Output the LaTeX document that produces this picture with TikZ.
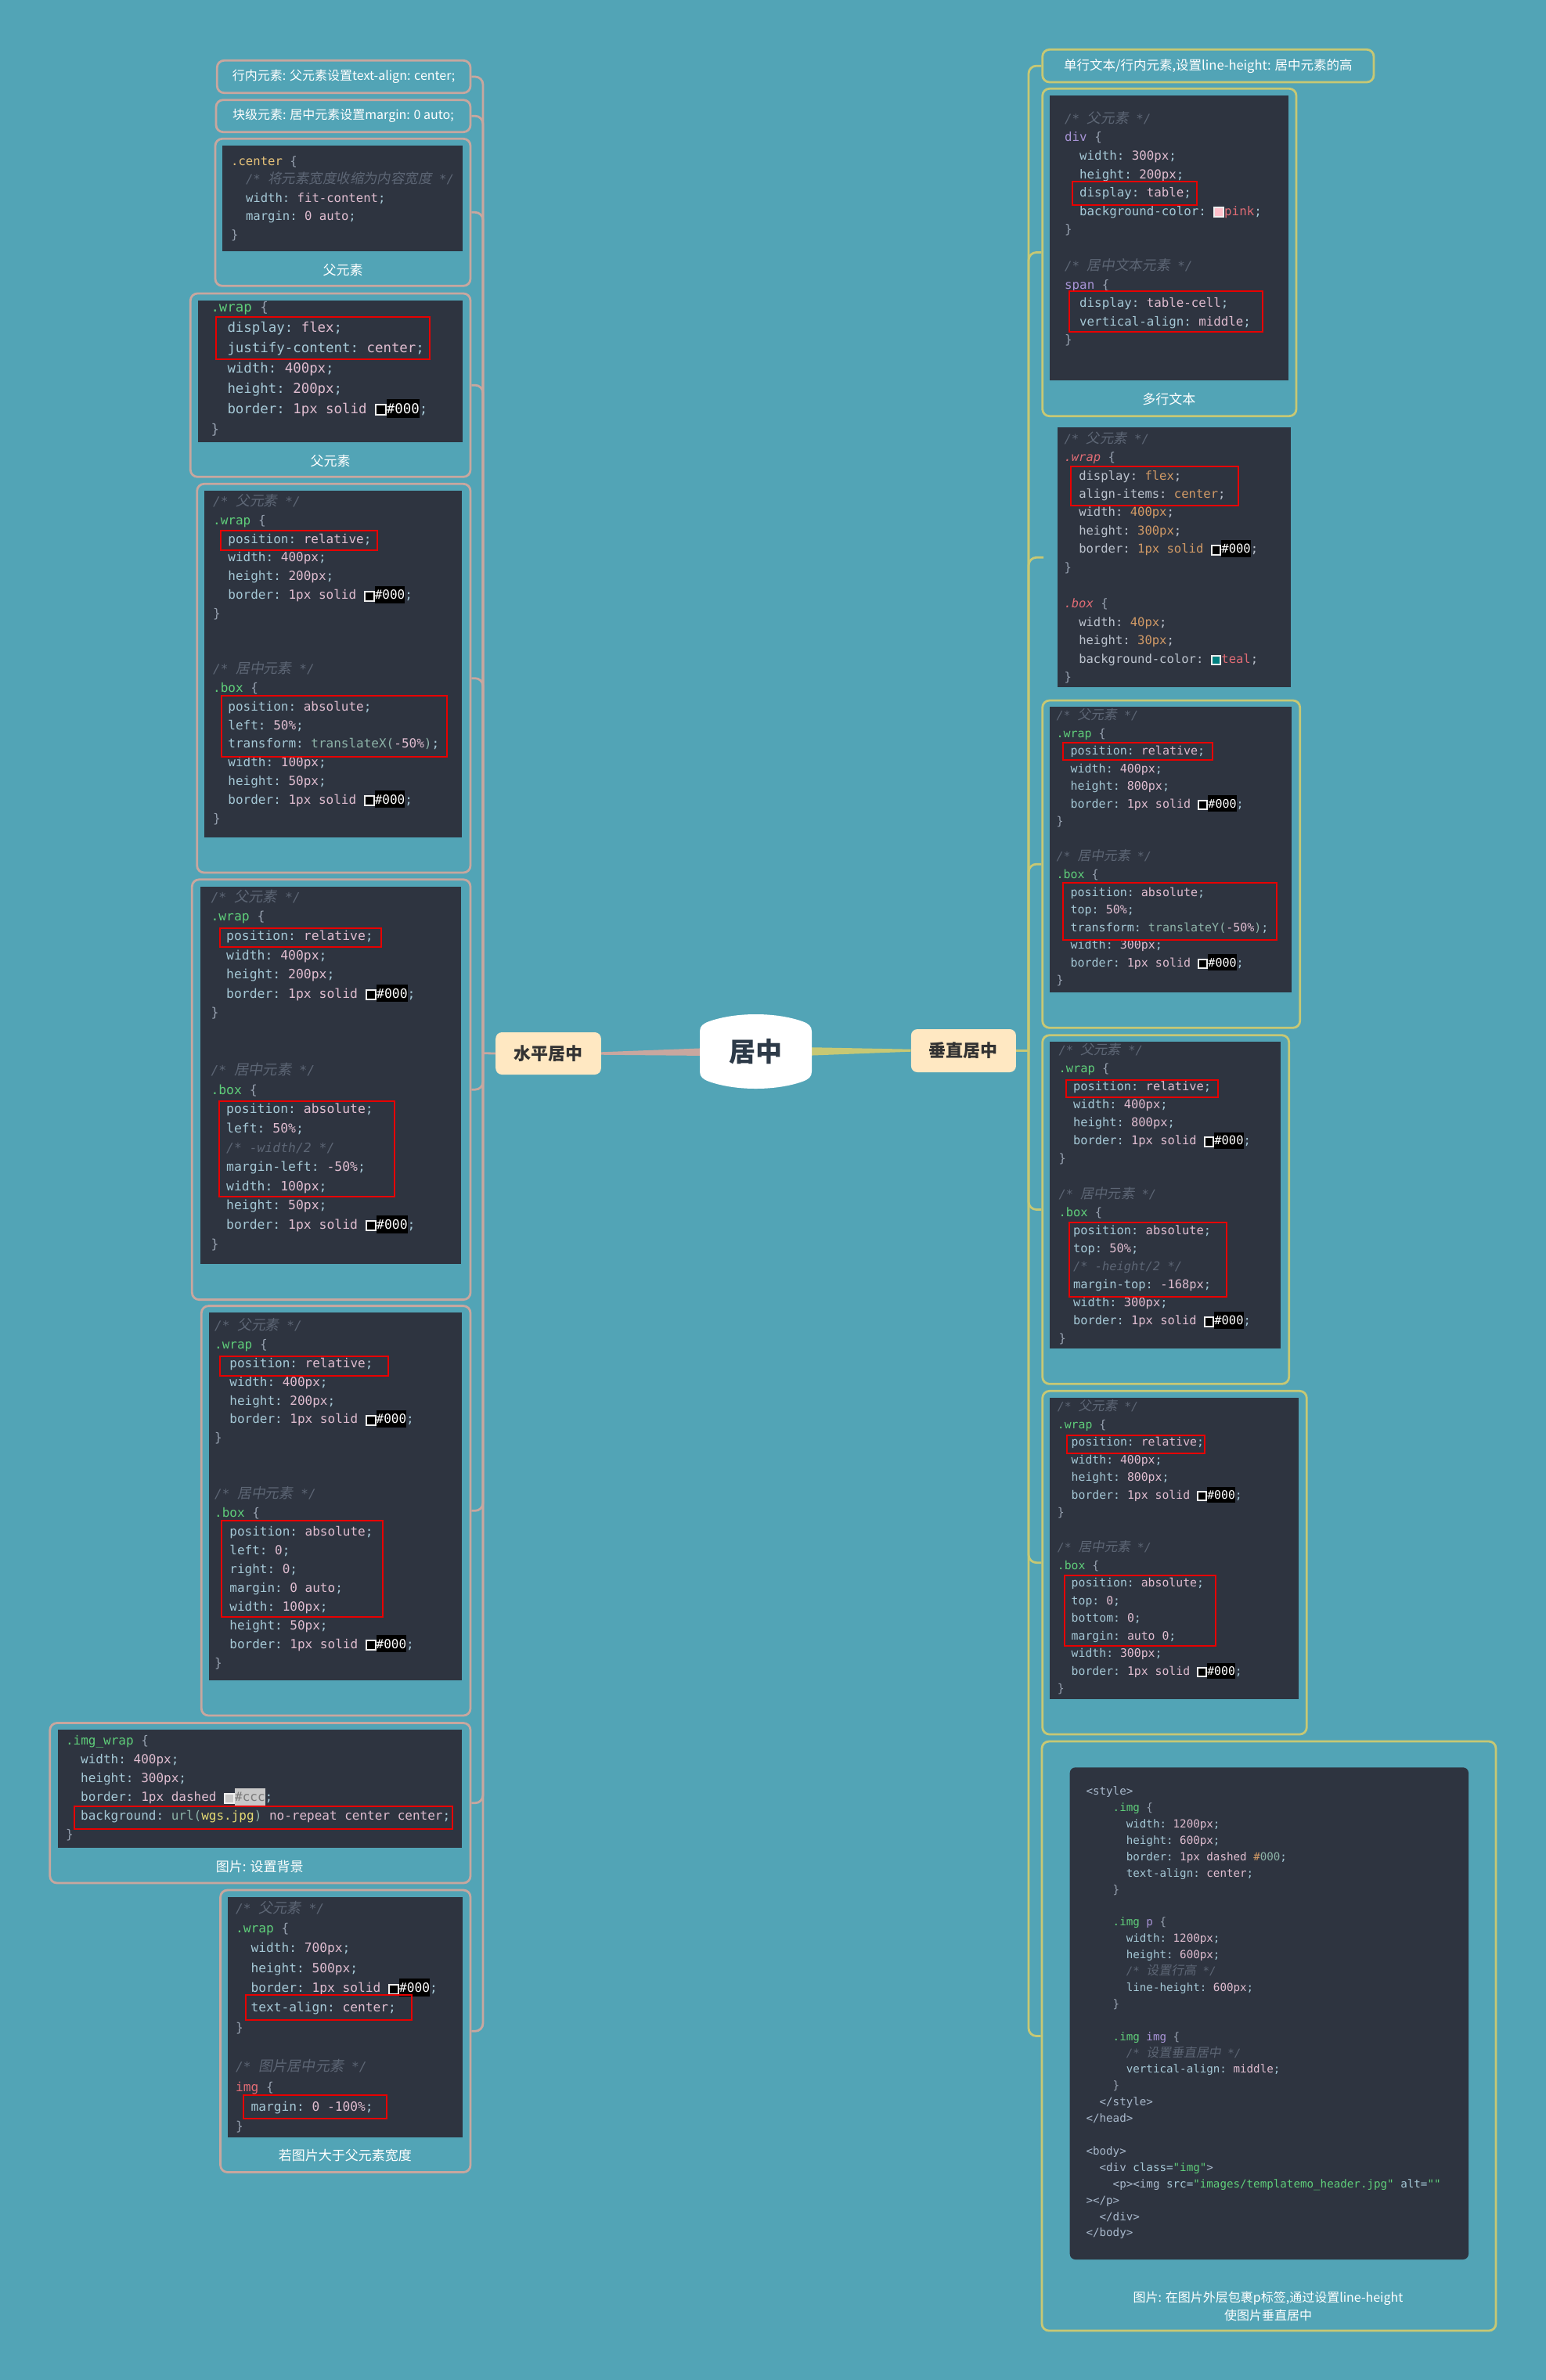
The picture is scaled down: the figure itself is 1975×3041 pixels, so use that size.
\documentclass[tikz,border=0pt]{standalone}
\usepackage{fontspec}
\setmainfont{Noto Sans CJK SC}
\setmonofont{DejaVu Sans Mono}
\newfontfamily\cjk{Noto Sans CJK SC}
\newfontfamily\cjkit[FakeSlant=0.18,Scale=1.12]{Noto Sans CJK SC}
\usetikzlibrary{calc}
\definecolor{bgcol}{HTML}{52A4B6}
\definecolor{lcol}{HTML}{C8A79F}
\definecolor{rcol}{HTML}{C7C874}
\definecolor{panelcol}{HTML}{2E3440}
\definecolor{cdprop}{HTML}{A5C8D6}
\definecolor{cdval}{HTML}{E0BDD0}
\definecolor{cdsel}{HTML}{5FCE7A}
\definecolor{cdbr}{HTML}{96A0AF}
\definecolor{cdcom}{HTML}{5D6675}
\definecolor{cdyel}{HTML}{E6C27A}
\definecolor{cdred}{HTML}{E06C75}
\definecolor{cdora}{HTML}{D19A66}
\definecolor{cdfun}{HTML}{8DB3A8}
\definecolor{cdpur}{HTML}{A894D6}
\definecolor{cdstr}{HTML}{E6DB74}
\definecolor{cdgray}{HTML}{BCC3CE}
\definecolor{cdtag}{HTML}{A9B9CC}
\definecolor{cdccc}{HTML}{C8C8C8}
\definecolor{cdgraytext}{HTML}{7A7A7A}
\definecolor{cdpinksw}{HTML}{FFC0CB}
\definecolor{cdtealsw}{HTML}{008080}
\definecolor{swframe}{HTML}{EEEEEE}
\definecolor{rootcol}{HTML}{2D3A48}
\definecolor{labcol}{HTML}{333333}
\definecolor{hzfill}{HTML}{FFE8C2}
\definecolor{redline}{HTML}{E80000}
\newcounter{cdn}
\newcommand\cdV[1]{\textcolor{cdval}{#1}}
\newcommand\cdS[1]{\textcolor{cdsel}{#1}}
\newcommand\cdB[1]{\textcolor{cdbr}{#1}}
\newcommand\cdY[1]{\textcolor{cdyel}{#1}}
\newcommand\cdR[1]{\textcolor{cdred}{\itshape #1}}
\newcommand\cdO[1]{\textcolor{cdora}{#1}}
\newcommand\cdF[1]{\textcolor{cdfun}{#1}}
\newcommand\cdU[1]{\textcolor{cdpur}{#1}}
\newcommand\cdK[1]{\textcolor{cdred}{#1}}
\newcommand\cdG[1]{\textcolor{cdgray}{#1}}
\newcommand\cdT[1]{\textcolor{cdstr}{#1}}
\newcommand\cdH[1]{\textcolor{cdtag}{#1}}
\newcommand\cdcm[1]{\textcolor{cdcom}{\itshape /* {\cjkit #1} */}}
\newcommand\cdcl[1]{\textcolor{cdcom}{\itshape #1}}
\newcommand\cdsw[1]{\raisebox{-1pt}{\setlength\fboxsep{0pt}\setlength\fboxrule{2pt}\fcolorbox{swframe}{#1}{\rule{0pt}{0.62em}\hspace{0.62em}}}}
\newcommand\cdhl[3]{{\setlength\fboxsep{0pt}\colorbox{#1}{\rule[-0.32em]{0pt}{1.38em}\textcolor{#2}{#3}}}}
\newcommand\cdbd{border: \cdV{1px solid }\cdsw{black}\cdhl{black}{white}{\#000};}
\newcommand\cdset[5]{\def\cdx{#1}\def\cdy{#2}\def\cdL{#3}\def\cds{#4}\def\cdw{#5}}
\newcommand\cdl[3]{\stepcounter{cdn}\node[codeline] (cl\arabic{cdn}) at ({\cdx+#1*\cdw},{\cdy+#2*\cdL+0.3*\cds}) {#3};}
\newcommand\cdwrap[1]{%
\cdl{0}{0}{\cdcm{父元素}}
\cdl{0}{1}{\cdS{.wrap} \cdB{\{}}
\cdl{2}{2}{position: \cdV{relative};}
\cdl{2}{3}{width: \cdV{400px};}
\cdl{2}{4}{height: \cdV{#1};}
\cdl{2}{5}{\cdbd}
\cdl{0}{6}{\cdB{\}}}}
\newcommand\frameat[7]{\node[#1, minimum width={#5pt-#3pt}, minimum height={#6pt-#4pt}] (#2) at ({(#3+#5)/2},{(#4+#6)/2}) {#7};}
\tikzset{
  codeline/.style={anchor=base west, inner sep=0pt, text=cdprop, font=\fontsize{\cds}{\cds}\selectfont\ttfamily},
  lframe/.style={draw=lcol, line width=2.8pt, rounded corners=9pt, inner sep=0pt},
  rframe/.style={draw=rcol, line width=2.8pt, rounded corners=9pt, inner sep=0pt},
  panel/.style={fill=panelcol, inner sep=0pt},
  lab/.style={text=white, font=\cjk\fontsize{16}{19}\selectfont},
  capt/.style={text=white, inner sep=0pt, font=\cjk\fontsize{17}{23}\selectfont},
  lconn/.style={draw=lcol, line width=2.8pt, rounded corners=10pt},
  rconn/.style={draw=rcol, line width=2.8pt, rounded corners=10pt},
  redbox/.style={draw=redline, line width=2pt},
  topic/.style={fill=hzfill, rounded corners=8pt, inner sep=0pt, text=labcol, font=\cjk\bfseries\fontsize{22}{26}\selectfont},
}
\begin{document}
\begin{tikzpicture}[x=1pt,y=-1pt]
\useasboundingbox (0,0) rectangle (1975,3041);
\fill[bgcol] (0,0) rectangle (1975,3041);

% ---------- central topics ----------
\node[topic, minimum width=134.6pt, minimum height=54pt] (hz) at (700.5,1346) {水平居中};
\node[topic, minimum width=134pt, minimum height=55pt] (vt) at (1230.9,1342.5) {垂直居中};
\node[inner sep=0pt, minimum width=143pt, minimum height=70pt] (root) at (965.5,1343.5) {};
\fill[lcol] ($(root.west)+(12,-4.5)$) -- ($(hz.east)+(0,-1.7)$) -- ($(hz.east)+(0,1.7)$) -- ($(root.west)+(12,5.5)$) -- cycle;
\fill[rcol] ($(root.east)+(-12,-5.5)$) -- ($(vt.west)+(0,-1.8)$) -- ($(vt.west)+(0,1.2)$) -- ($(root.east)+(-12,5.5)$) -- cycle;
\fill[white] (894,1318) -- (894,1369)
  .. controls (894,1376) and (898,1379) .. (906,1382)
  .. controls (940,1394) and (991,1394) .. (1025,1382)
  .. controls (1033,1379) and (1037,1376) .. (1037,1369)
  -- (1037,1318)
  .. controls (1037,1311) and (1033,1308) .. (1025,1305)
  .. controls (991,1293) and (940,1293) .. (906,1305)
  .. controls (898,1308) and (894,1311) .. (894,1318) -- cycle;
\node[text=rootcol, font=\cjk\bfseries\fontsize{34}{40}\selectfont] (roottext) at (root.center) {居中};

% ---------- left frames ----------
\frameat{lframe, lab}{L1}{277.3}{77.3}{601}{118.7}{行内元素: 父元素设置text-align: center;}
\frameat{lframe, lab}{L2}{276}{127.7}{601}{168.7}{块级元素: 居中元素设置margin: 0 auto;}
\frameat{lframe}{L3}{275}{177.3}{601}{365.3}{}
\frameat{lframe}{L4}{243.3}{375}{601}{609.3}{}
\frameat{lframe}{L5}{251.7}{618.3}{601}{1115}{}
\frameat{lframe}{L6}{245.3}{1123.8}{601}{1660.6}{}
\frameat{lframe}{L7}{257.3}{1668.6}{601}{2192}{}
\frameat{lframe}{L8}{63.8}{2201.5}{601}{2406}{}
\frameat{lframe}{L9}{281.6}{2415}{601}{2775.5}{}

% ---------- right frames ----------
\frameat{rframe, lab, font=\cjk\fontsize{16.5}{19}\selectfont}{R1}{1331.7}{63.3}{1755}{105}{单行文本/行内元素,设置line-height: 居中元素的高}
\frameat{rframe}{R2}{1331.7}{113.3}{1656}{531.7}{}
\coordinate (R3in) at (1333,712.3);
\frameat{rframe}{R4}{1331.7}{895}{1660.7}{1313.3}{}
\frameat{rframe}{R5}{1331.7}{1322.7}{1646.7}{1768.3}{}
\frameat{rframe}{R6}{1331.7}{1777.3}{1669.3}{2216}{}
\frameat{rframe}{R7}{1331}{2225}{1911}{2978}{}

% ---------- connectors ----------
\coordinate (hubL) at (617,1345.7);
\coordinate (hubR) at (1314,1342.5);
\draw[lconn] (hz.west) -- (hubL);
\draw[rconn] (vt.east) -- (hubR);
\foreach \n in {L1,L2,L3,L4,L5,L6,L7,L8,L9} \draw[lconn] (\n.east) -| (hubL);
\foreach \n in {R1,R2,R4,R5,R6,R7} \draw[rconn] (\n.west) -| (hubR);
\draw[rconn] (R3in) -| (hubR);

% ---------- panels ----------
\frameat{panel}{P3}{284}{186}{591}{321}{}
\frameat{panel}{P4}{253}{384}{591}{565}{}
\frameat{panel}{P5}{261}{627.3}{590}{1070}{}
\frameat{panel}{P6}{256}{1132.5}{589}{1615}{}
\frameat{panel}{P7}{267}{1677.2}{590}{2147.3}{}
\frameat{panel}{P8}{73.6}{2209.9}{590}{2361}{}
\frameat{panel}{P9}{290.7}{2424.2}{590.7}{2730.8}{}
\frameat{panel}{PR2}{1340.7}{122.3}{1645.7}{485.7}{}
\frameat{panel}{PR3}{1350.7}{546}{1649.3}{878.3}{}
\frameat{panel}{PR4}{1341}{903.3}{1650}{1268.3}{}
\frameat{panel}{PR5}{1341}{1331}{1636}{1723.3}{}
\frameat{panel}{PR6}{1341}{1786}{1659}{2171}{}
\frameat{panel, rounded corners=7pt}{PR7}{1366.7}{2258.3}{1876}{2887}{}

% ---------- captions ----------
\node[capt] (c3) at (438,345) {父元素};
\node[capt] (c4) at (422,589) {父元素};
\node[capt] (c8) at (331.8,2385.2) {图片: 设置背景};
\node[capt] (c9) at (440.9,2754.5) {若图片大于父元素宽度};
\node[capt] (cR2) at (1493.3,510) {多行文本};
\node[capt, align=center, font=\cjk\fontsize{16}{23}\selectfont] (cR7) at (1620,2946.5) {图片: 在图片外层包裹p标签,通过设置line-height\\使图片垂直居中};

% ---------- code: L3 ----------
\cdset{295}{206.7}{23.5}{15.6}{9.4}
\cdl{0}{0}{\cdY{.center} \cdB{\{}}
\cdl{2}{1}{\cdcm{将元素宽度收缩为内容宽度}}
\cdl{2}{2}{width: \cdV{fit-content};}
\cdl{2}{3}{margin: \cdV{0 auto};}
\cdl{0}{4}{\cdB{\}}}

% ---------- code: L4 ----------
\cdset{269.3}{393.3}{25.95}{17.4}{10.5}
\cdl{0}{0}{\cdS{.wrap} \cdB{\{}}
\cdl{2}{1}{display: \cdV{flex};}
\cdl{2}{2}{justify-content: \cdV{center};}
\cdl{2}{3}{width: \cdV{400px};}
\cdl{2}{4}{height: \cdV{200px};}
\cdl{2}{5}{\cdbd}
\cdl{0}{6}{\cdB{\}}}
\draw[redbox] (275.7,405) rectangle (549,459);

% ---------- code: L5 ----------
\cdset{272}{641.7}{23.8}{16}{9.63}
\cdwrap{200px}
\cdl{0}{9}{\cdcm{居中元素}}
\cdl{0}{10}{\cdS{.box} \cdB{\{}}
\cdl{2}{11}{position: \cdV{absolute};}
\cdl{2}{12}{left: \cdV{50\%};}
\cdl{2}{13}{transform: \cdF{translateX(}\cdV{-50\%}\cdF{)};}
\cdl{2}{14}{width: \cdV{100px};}
\cdl{2}{15}{height: \cdV{50px};}
\cdl{2}{16}{\cdbd}
\cdl{0}{17}{\cdB{\}}}
\draw[redbox] (281.7,677.7) rectangle (482.3,702.7);
\draw[redbox] (282.7,889) rectangle (570.7,967.3);

% ---------- code: L6 ----------
\cdset{269.3}{1147.3}{24.6}{16.4}{9.87}
\cdwrap{200px}
\cdl{0}{9}{\cdcm{居中元素}}
\cdl{0}{10}{\cdS{.box} \cdB{\{}}
\cdl{2}{11}{position: \cdV{absolute};}
\cdl{2}{12}{left: \cdV{50\%};}
\cdl{2}{13}{\cdcl{/* -width/2 */}}
\cdl{2}{14}{margin-left: \cdV{-50\%};}
\cdl{2}{15}{width: \cdV{100px};}
\cdl{2}{16}{height: \cdV{50px};}
\cdl{2}{17}{\cdbd}
\cdl{0}{18}{\cdB{\}}}
\draw[redbox] (280.7,1185.9) rectangle (486.7,1210.1);
\draw[redbox] (280,1407.3) rectangle (504.3,1529);

% ---------- code: L7 ----------
\cdset{274}{1694.4}{23.95}{16}{9.6}
\cdwrap{200px}
\cdl{0}{9}{\cdcm{居中元素}}
\cdl{0}{10}{\cdS{.box} \cdB{\{}}
\cdl{2}{11}{position: \cdV{absolute};}
\cdl{2}{12}{left: \cdV{0};}
\cdl{2}{13}{right: \cdV{0};}
\cdl{2}{14}{margin: \cdV{0 auto};}
\cdl{2}{15}{width: \cdV{100px};}
\cdl{2}{16}{height: \cdV{50px};}
\cdl{2}{17}{\cdbd}
\cdl{0}{18}{\cdB{\}}}
\draw[redbox] (280.7,1733.3) rectangle (495.7,1757.5);
\draw[redbox] (282.7,1943.4) rectangle (489.3,2066.3);

% ---------- code: L8 ----------
\cdset{83.8}{2224.4}{24.1}{16}{9.6}
\cdl{0}{0}{\cdS{.img\_wrap} \cdB{\{}}
\cdl{2}{1}{width: \cdV{400px};}
\cdl{2}{2}{height: \cdV{300px};}
\cdl{2}{3}{border: \cdV{1px dashed }\cdsw{cdccc}\cdhl{cdccc}{cdgraytext}{\#ccc};}
\cdl{2}{4}{background: \cdF{url(}\cdT{wgs.jpg}\cdF{)} \cdV{no-repeat center center};}
\cdl{0}{5}{\cdB{\}}}
\draw[redbox] (94.7,2307.9) rectangle (578,2337.3);

% ---------- code: L9 ----------
\cdset{301}{2439.5}{25.3}{16.2}{9.7}
\cdl{0}{0}{\cdcm{父元素}}
\cdl{0}{1}{\cdS{.wrap} \cdB{\{}}
\cdl{2}{2}{width: \cdV{700px};}
\cdl{2}{3}{height: \cdV{500px};}
\cdl{2}{4}{\cdbd}
\cdl{2}{5}{text-align: \cdV{center};}
\cdl{0}{6}{\cdB{\}}}
\cdl{0}{8}{\cdcm{图片居中元素}}
\cdl{0}{9}{\cdK{img} \cdB{\{}}
\cdl{2}{10}{margin: \cdV{0 -100\%};}
\cdl{0}{11}{\cdB{\}}}
\draw[redbox] (313.6,2549) rectangle (526.4,2581.1);
\draw[redbox] (311.1,2676.8) rectangle (494.4,2707.4);

% ---------- code: R2 ----------
\cdset{1360}{152.7}{23.53}{15.8}{9.5}
\cdl{0}{0}{\cdcm{父元素}}
\cdl{0}{1}{\cdU{div} \cdB{\{}}
\cdl{2}{2}{width: \cdV{300px};}
\cdl{2}{3}{height: \cdV{200px};}
\cdl{2}{4}{display: \cdV{table};}
\cdl{2}{5}{background-color: \cdsw{cdpinksw}\cdK{pink};}
\cdl{0}{6}{\cdB{\}}}
\cdl{0}{8}{\cdcm{居中文本元素}}
\cdl{0}{9}{\cdU{span} \cdB{\{}}
\cdl{2}{10}{display: \cdV{table-cell};}
\cdl{2}{11}{vertical-align: \cdV{middle};}
\cdl{0}{12}{\cdB{\}}}
\draw[redbox] (1370,231.7) rectangle (1529.3,261.7);
\draw[redbox] (1366,371.7) rectangle (1613.3,424);

% ---------- code: R3 ----------
\cdset{1359.3}{561.7}{23.4}{15.55}{9.37}
\cdl{0}{0}{\cdcm{父元素}}
\cdl{0}{1}{\cdR{.wrap} \cdB{\{}}
\cdl{2}{2}{\cdG{display: }\cdO{flex}\cdG{;}}
\cdl{2}{3}{\cdG{align-items: }\cdO{center}\cdG{;}}
\cdl{2}{4}{\cdG{width: }\cdO{400px}\cdG{;}}
\cdl{2}{5}{\cdG{height: }\cdO{300px}\cdG{;}}
\cdl{2}{6}{\cdG{border: }\cdO{1px solid }\cdsw{black}\cdhl{black}{white}{\#000}\cdG{;}}
\cdl{0}{7}{\cdB{\}}}
\cdl{0}{9}{\cdR{.box} \cdB{\{}}
\cdl{2}{10}{\cdG{width: }\cdO{40px}\cdG{;}}
\cdl{2}{11}{\cdG{height: }\cdO{30px}\cdG{;}}
\cdl{2}{12}{\cdG{background-color: }\cdsw{cdtealsw}\cdK{teal}\cdG{;}}
\cdl{0}{13}{\cdB{\}}}
\draw[redbox] (1367.7,596) rectangle (1581.7,645.7);

% ---------- code: R4 ----------
\cdset{1349.3}{915}{22.56}{15}{9.05}
\cdwrap{800px}
\cdl{0}{8}{\cdcm{居中元素}}
\cdl{0}{9}{\cdS{.box} \cdB{\{}}
\cdl{2}{10}{position: \cdV{absolute};}
\cdl{2}{11}{top: \cdV{50\%};}
\cdl{2}{12}{transform: \cdF{translateY(}\cdV{-50\%}\cdF{)};}
\cdl{2}{13}{width: \cdV{300px};}
\cdl{2}{14}{\cdbd}
\cdl{0}{15}{\cdB{\}}}
\draw[redbox] (1358.3,949) rectangle (1549,970.7);
\draw[redbox] (1357.7,1128.3) rectangle (1630.7,1200.7);

% ---------- code: R5 ----------
\cdset{1352.3}{1343.3}{22.98}{15.4}{9.25}
\cdwrap{800px}
\cdl{0}{8}{\cdcm{居中元素}}
\cdl{0}{9}{\cdS{.box} \cdB{\{}}
\cdl{2}{10}{position: \cdV{absolute};}
\cdl{2}{11}{top: \cdV{50\%};}
\cdl{2}{12}{\cdcl{/* -height/2 */}}
\cdl{2}{13}{margin-top: \cdV{-168px};}
\cdl{2}{14}{width: \cdV{300px};}
\cdl{2}{15}{\cdbd}
\cdl{0}{16}{\cdB{\}}}
\draw[redbox] (1361.7,1380) rectangle (1555.7,1402.3);
\draw[redbox] (1365.7,1561.7) rectangle (1567.3,1656.7);

% ---------- code: R6 ----------
\cdset{1350.7}{1798.3}{22.5}{14.8}{8.9}
\cdwrap{800px}
\cdl{0}{8}{\cdcm{居中元素}}
\cdl{0}{9}{\cdS{.box} \cdB{\{}}
\cdl{2}{10}{position: \cdV{absolute};}
\cdl{2}{11}{top: \cdV{0};}
\cdl{2}{12}{bottom: \cdV{0};}
\cdl{2}{13}{margin: \cdV{auto 0};}
\cdl{2}{14}{width: \cdV{300px};}
\cdl{2}{15}{\cdbd}
\cdl{0}{16}{\cdB{\}}}
\draw[redbox] (1363.3,1834) rectangle (1539.3,1856.7);
\draw[redbox] (1360,2012.7) rectangle (1552.7,2103.3);

% ---------- code: R7 ----------
\cdset{1387.3}{2289.4}{20.9}{14.2}{8.55}
\cdl{0}{0}{\cdH{<style>}}
\cdl{4}{1}{\cdS{.img} \cdB{\{}}
\cdl{6}{2}{width: \cdV{1200px};}
\cdl{6}{3}{height: \cdV{600px};}
\cdl{6}{4}{border: \cdV{1px dashed }\cdO{\#}\cdF{000};}
\cdl{6}{5}{text-align: \cdV{center};}
\cdl{4}{6}{\cdB{\}}}
\cdl{4}{8}{\cdS{.img} \cdU{p} \cdB{\{}}
\cdl{6}{9}{width: \cdV{1200px};}
\cdl{6}{10}{height: \cdV{600px};}
\cdl{6}{11}{\cdcm{设置行高}}
\cdl{6}{12}{line-height: \cdV{600px};}
\cdl{4}{13}{\cdB{\}}}
\cdl{4}{15}{\cdS{.img} \cdU{img} \cdB{\{}}
\cdl{6}{16}{\cdcm{设置垂直居中}}
\cdl{6}{17}{vertical-align: \cdV{middle};}
\cdl{4}{18}{\cdB{\}}}
\cdl{2}{19}{\cdH{</style>}}
\cdl{0}{20}{\cdH{</head>}}
\cdl{0}{22}{\cdH{<body>}}
\cdl{2}{23}{\cdH{<div} class=\cdS{"img"}\cdH{>}}
\cdl{4}{24}{\cdH{<p><img} src=\cdS{"images/templatemo\_header.jpg"} alt=\cdS{""}}
\cdl{0}{25}{\cdH{></p>}}
\cdl{2}{26}{\cdH{</div>}}
\cdl{0}{27}{\cdH{</body>}}
\end{tikzpicture}
\end{document}
